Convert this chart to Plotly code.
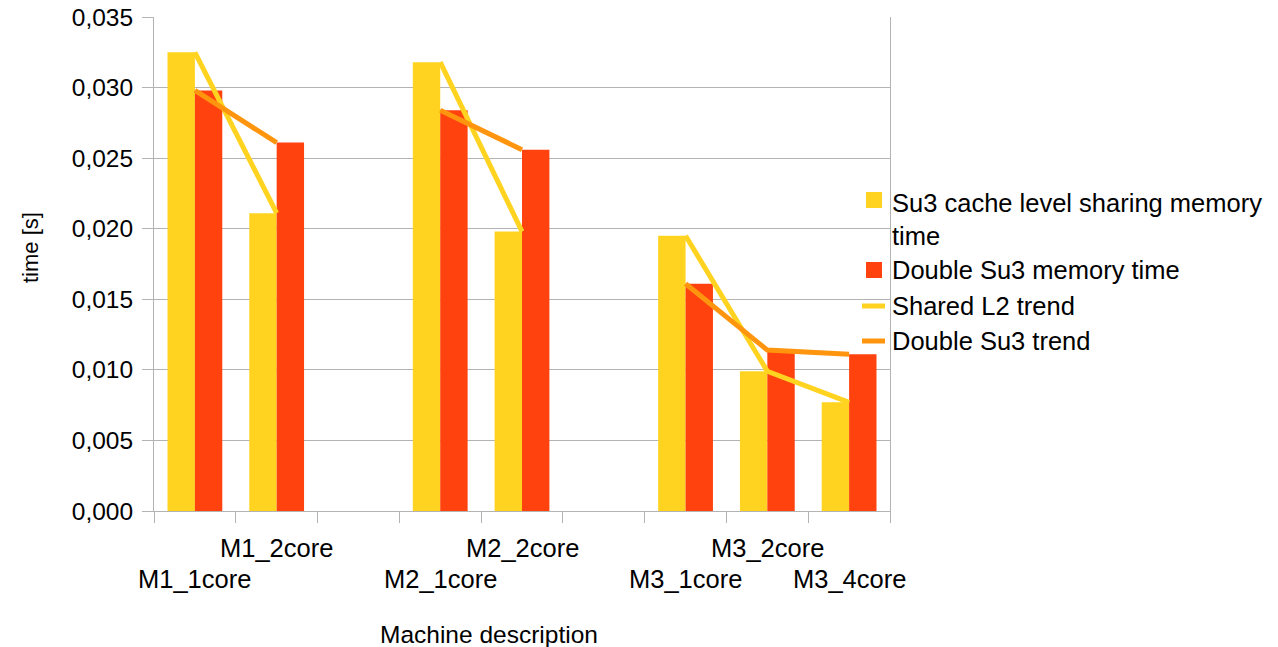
import plotly.graph_objects as go

# Machine configurations (blank slots separate the three machines)
categories = ["M1_1core", "M1_2core", "", "M2_1core", "M2_2core", "",
              "M3_1core", "M3_2core", "M3_4core"]
# Su3 cache level sharing memory time [s]
shared_time = [0.0325, 0.0211, None, 0.0318, 0.0198, None, 0.0195, 0.0099, 0.0077]
# Double Su3 memory time [s]
double_time = [0.0298, 0.0261, None, 0.0284, 0.0256, None, 0.0161, 0.0114, 0.0111]

y_ticks = [0.0, 0.005, 0.010, 0.015, 0.020, 0.025, 0.030, 0.035]

YELLOW = "#FFD320"
RED = "#FF420E"
ORANGE = "#FF950E"
GRID = "#B3B3B3"
FONT = "Liberation Sans, Arial, sans-serif"

W, H = 1278, 647
L, R, T, B = 154, 388, 17, 136
PW, PH = W - L - R, H - T - B


def px(x):
    return (x - L) / PW


def py(y):
    return (H - B - y) / PH


xs = list(range(len(categories)))
fig = go.Figure()

fig.add_trace(go.Bar(x=xs, y=shared_time, name="Su3 cache level sharing memory time",
                     marker=dict(color=YELLOW, line=dict(width=0))))
fig.add_trace(go.Bar(x=xs, y=double_time, name="Double Su3 memory time",
                     marker=dict(color=RED, line=dict(width=0))))
fig.add_trace(go.Scatter(x=xs, y=shared_time, mode="lines", name="Shared L2 trend",
                         line=dict(color=YELLOW, width=5), connectgaps=False))
fig.add_trace(go.Scatter(x=xs, y=double_time, mode="lines", name="Double Su3 trend",
                         line=dict(color=ORANGE, width=5), connectgaps=False))

annotations = []
# staggered category labels
for i, lab in enumerate(categories):
    if not lab:
        continue
    high = lab.endswith("2core")
    annotations.append(dict(x=i, xref="x", y=py(548 if high else 579), yref="paper",
                            text=lab, showarrow=False, xanchor="center", yanchor="middle",
                            font=dict(family=FONT, size=25.5, color="black")))

# axis titles
annotations.append(dict(x=px(489), y=py(634), xref="paper", yref="paper",
                        text="Machine description", showarrow=False,
                        xanchor="center", yanchor="middle",
                        font=dict(family=FONT, size=24.5, color="black")))
annotations.append(dict(x=px(30), y=py(248), xref="paper", yref="paper",
                        text="time [s]", showarrow=False, textangle=-90,
                        xanchor="center", yanchor="middle",
                        font=dict(family=FONT, size=22, color="black")))

# legend
legend_items = [
    ("square", YELLOW, 200, "Su3 cache level sharing memory<br>time", 219),
    ("square", RED, 270, "Double Su3 memory time", 270),
    ("line", YELLOW, 306, "Shared L2 trend", 306),
    ("line", ORANGE, 341, "Double Su3 trend", 341),
]
shapes = []
for kind, col, ys, text, yt in legend_items:
    if kind == "square":
        shapes.append(dict(type="rect", xref="paper", yref="paper",
                           x0=px(866), x1=px(882), y0=py(ys + 8), y1=py(ys - 8),
                           fillcolor=col, line=dict(width=0)))
    else:
        shapes.append(dict(type="line", xref="paper", yref="paper",
                           x0=px(862), x1=px(885), y0=py(ys), y1=py(ys),
                           line=dict(color=col, width=5)))
    annotations.append(dict(x=px(890), y=py(yt), xref="paper", yref="paper",
                            text=text, showarrow=False, xanchor="left", yanchor="middle",
                            align="left",
                            font=dict(family=FONT, size=25.5, color="black")))

fig.update_layout(
    width=W, height=H,
    margin=dict(l=L, r=R, t=T, b=B, autoexpand=False),
    paper_bgcolor="white", plot_bgcolor="white",
    barmode="group", bargap=0.33, bargroupgap=0,
    showlegend=False,
    separators=",.",
    font=dict(family=FONT, size=24.5, color="black"),
    shapes=shapes,
    annotations=annotations,
)

fig.update_xaxes(range=[-0.5, len(categories) - 0.5],
                 tickvals=[i - 0.5 for i in range(len(categories) + 1)],
                 showticklabels=False, ticks="outside", ticklen=11, tickcolor=GRID,
                 showgrid=False, zeroline=False, showline=True, linecolor=GRID, linewidth=1,
                 automargin=False)
fig.update_yaxes(range=[0, 0.035], tickvals=y_ticks, tickformat=".3f",
                 ticks="outside", ticklen=11, tickcolor=GRID, ticklabelstandoff=4,
                 showgrid=True, gridcolor=GRID, gridwidth=1, zeroline=False,
                 showline=True, linecolor=GRID, linewidth=1, mirror=True,
                 automargin=False,
                 tickfont=dict(family=FONT, size=24.5, color="black"))

fig.write_html("out.html")
